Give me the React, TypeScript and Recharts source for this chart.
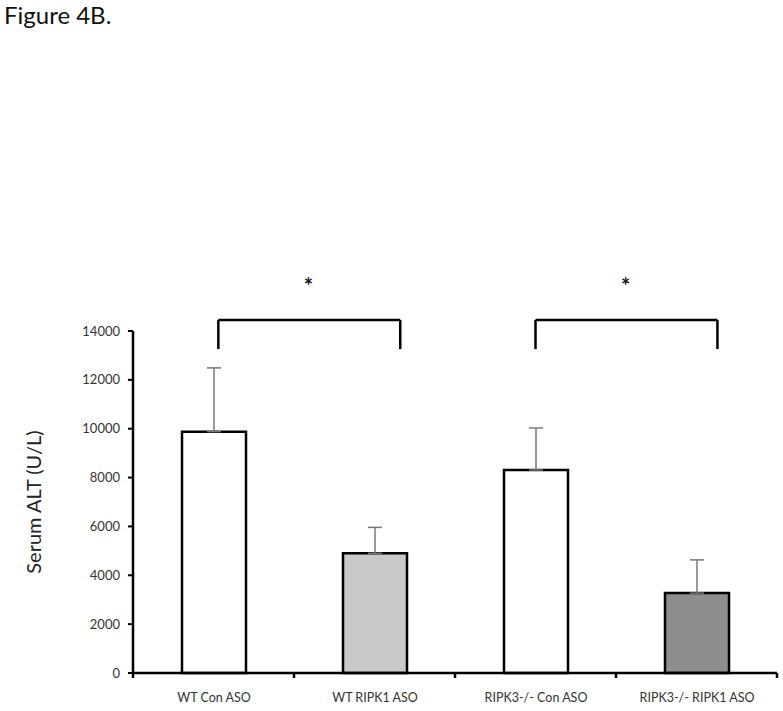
import React from "react";
import {
  Bar,
  BarChart,
  Cell,
  ErrorBar,
  Label,
  LabelList,
  ReferenceDot,
  ReferenceLine,
  XAxis,
  YAxis,
} from "recharts";

// values
const groups = ["WT Con ASO", "WT RIPK1 ASO", "RIPK3-/- Con ASO", "RIPK3-/- RIPK1 ASO"];
const alt = [9880, 4900, 8310, 3270];
const sem = [2610, 1060, 1720, 1360];
const fills = ["#ffffff", "#c9c9c9", "#ffffff", "#8e8e8e"];
const yTicks = [0, 2000, 4000, 6000, 8000, 10000, 12000, 14000];
const xBounds = [0, 1, 2, 3, 4];

// significance brackets, in category units (0..4) and U/L
const brackets = [
  { from: 0.53, to: 1.66, star: 1.09 },
  { from: 2.5, to: 3.63, star: 3.06 },
];
const bracketTop = 14450;
const bracketFoot = 13260;
const starLevel = 15850;

const data = groups.map((name, i) => ({ name, pos: i + 0.5, alt: alt[i], err: [0, sem[i]] }));

const font = "Lato, 'Open Sans', sans-serif";

// group name under each bar, one line, not wrapped to the bar width
function GroupName(props: any) {
  const vb = props.viewBox ?? props;
  const cx = vb.x + vb.width / 2;
  const bottom = vb.y + Math.max(vb.height, 0);
  return (
    <text x={cx} y={bottom + 29} textAnchor="middle" fontSize={12.5} fill="#333" fontFamily={font}>
      {props.value}
    </text>
  );
}

export default function App() {
  return (
    <div style={{ position: "absolute", left: 0, top: 0, width: 783, height: 711, background: "#fff", fontFamily: font }}>
      <div style={{ position: "absolute", left: 4, top: 0, fontSize: 24, color: "#111" }}>Figure 4B.</div>
      <BarChart
        width={783}
        height={711}
        data={data}
        margin={{ top: 331, right: 6, bottom: 0, left: 0 }}
        barSize={64}
      >
        <XAxis
          dataKey="pos"
          type="number"
          domain={[0, 4]}
          allowDataOverflow
          ticks={xBounds}
          interval={0}
          tick={{ fontSize: 1, fill: "none" }}
          axisLine={{ stroke: "#000", strokeWidth: 2.5 }}
          tickLine={{ stroke: "#000", strokeWidth: 2.5 }}
          tickSize={5}
          height={38}
        />
        <YAxis
          width={133}
          domain={[0, 14000]}
          ticks={yTicks}
          interval={0}
          axisLine={{ stroke: "#000", strokeWidth: 2.5 }}
          tickLine={{ stroke: "#000", strokeWidth: 2 }}
          tickSize={5}
          tickMargin={8}
          tick={{ fontSize: 13, fill: "#333", fontFamily: font }}
        >
          <Label
            content={({ viewBox }: any) => (
              <text
                x={33}
                y={viewBox.y + viewBox.height / 2}
                transform={`rotate(-90 33 ${viewBox.y + viewBox.height / 2})`}
                textAnchor="middle"
                dominantBaseline="central"
                fontSize={20}
                fill="#222"
                fontFamily={font}
              >
                Serum ALT (U/L)
              </text>
            )}
          />
        </YAxis>
        <Bar dataKey="alt" stroke="#000" strokeWidth={2.5} isAnimationActive={false}>
          {data.map((d, i) => (
            <Cell key={d.name} fill={fills[i]} />
          ))}
          <ErrorBar dataKey="err" direction="y" width={7} stroke="#777" strokeWidth={1.5} isAnimationActive={false} />
          <LabelList dataKey="name" content={GroupName} />
        </Bar>
        {brackets.map((b, i) => (
          <React.Fragment key={i}>
            <ReferenceLine
              ifOverflow="visible"
              stroke="#000"
              strokeWidth={2.5}
              segment={[{ x: b.from, y: bracketTop }, { x: b.to, y: bracketTop }]}
            />
            <ReferenceLine
              ifOverflow="visible"
              stroke="#000"
              strokeWidth={2.5}
              segment={[{ x: b.from, y: bracketTop }, { x: b.from, y: bracketFoot }]}
            />
            <ReferenceLine
              ifOverflow="visible"
              stroke="#000"
              strokeWidth={2.5}
              segment={[{ x: b.to, y: bracketTop }, { x: b.to, y: bracketFoot }]}
            />
            <ReferenceDot
              x={b.star}
              y={starLevel}
              r={0}
              ifOverflow="visible"
              label={{ value: "*", position: "center", fontSize: 22, fontWeight: 700, fill: "#111", fontFamily: font }}
            />
          </React.Fragment>
        ))}
      </BarChart>
    </div>
  );
}
